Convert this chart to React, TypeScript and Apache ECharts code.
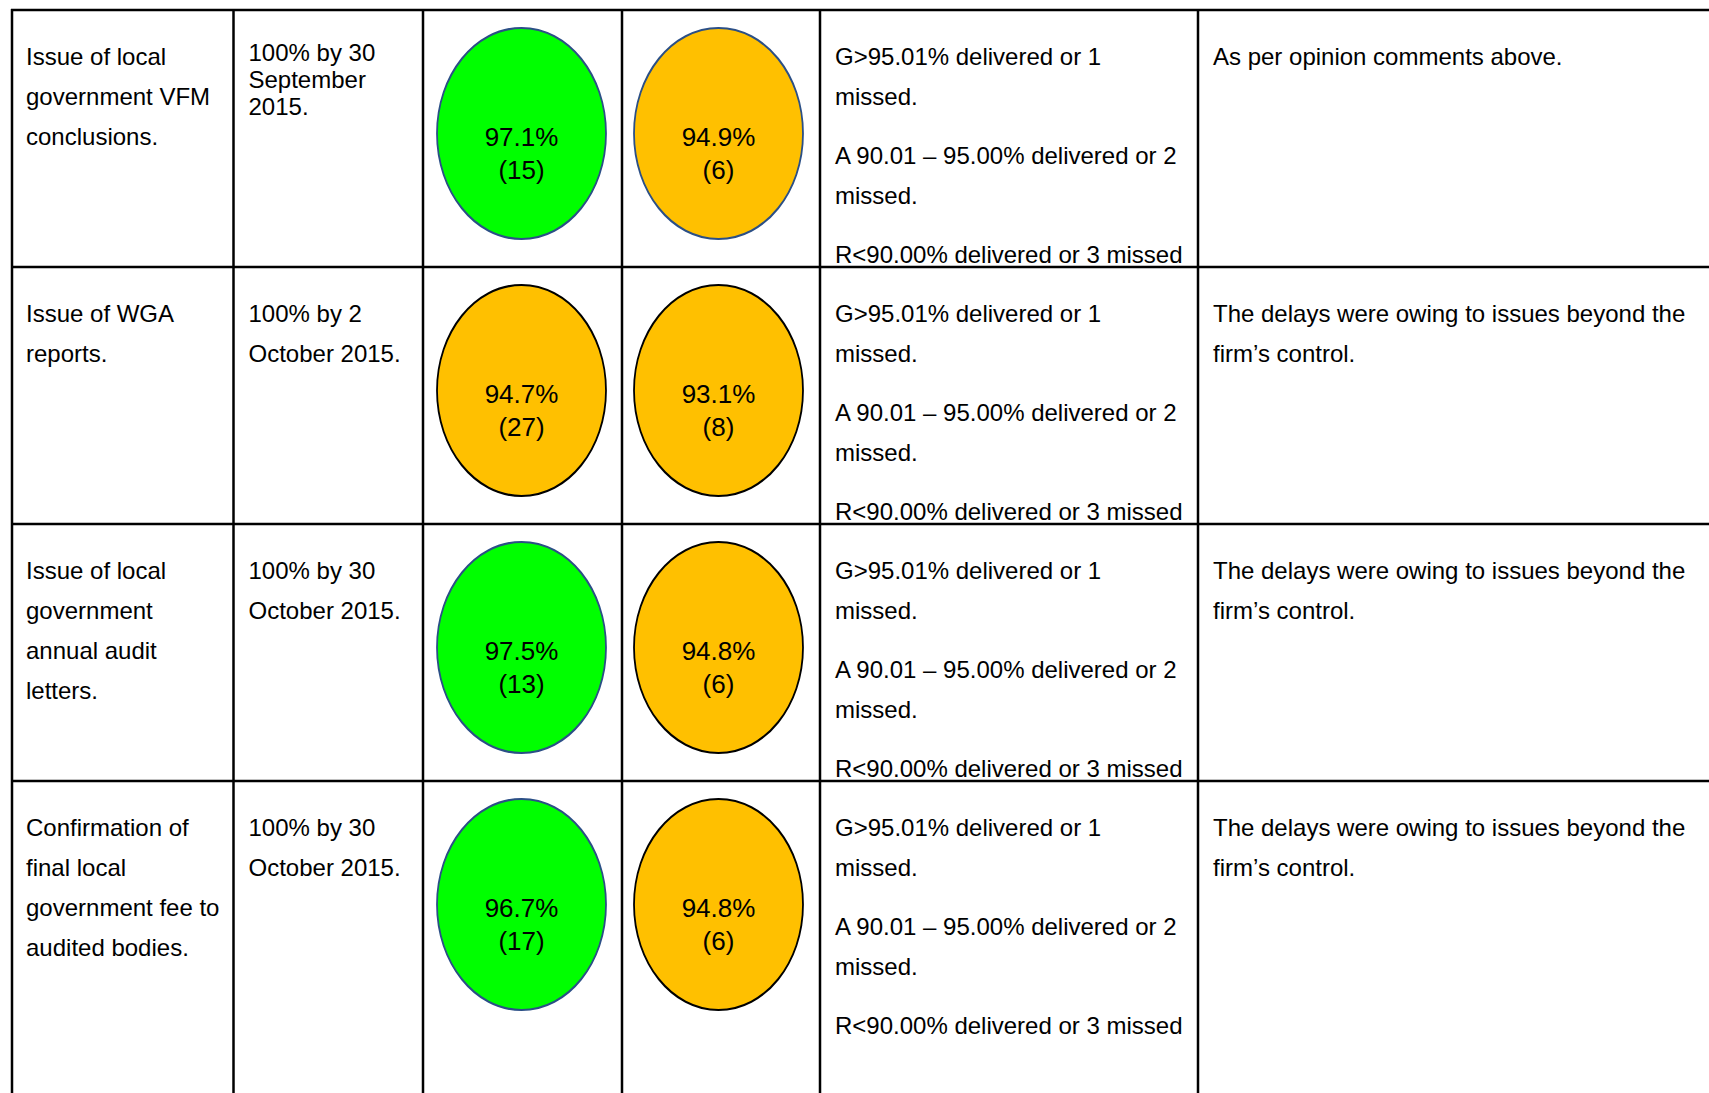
import React, { useEffect, useRef } from "react";
import * as echarts from "echarts";

// ---------- data ----------
const indicatorLines: string[][] = [
  ["Issue of local", "government VFM", "conclusions."],
  ["Issue of WGA", "reports."],
  ["Issue of local", "government", "annual audit", "letters."],
  ["Confirmation of", "final local", "government fee to", "audited bodies."],
];
const targetLines: string[][] = [
  ["100% by 30", "September", "2015."],
  ["100% by 2", "October 2015."],
  ["100% by 30", "October 2015."],
  ["100% by 30", "October 2015."],
];
const resultColumns = ["Result A", "Result B"];
const firstPct = [97.1, 94.7, 97.5, 96.7];
const firstCount = [15, 27, 13, 17];
const secondPct = [94.9, 93.1, 94.8, 94.8];
const secondCount = [6, 8, 6, 6];
const ragLines = [
  "G>95.01% delivered or 1",
  "missed.",
  "A 90.01 \u2013 95.00% delivered or 2",
  "missed.",
  "R<90.00% delivered or 3 missed",
];
const commentLines: string[][] = [
  ["As per opinion comments above."],
  ["The delays were owing to issues beyond the", "firm\u2019s control."],
  ["The delays were owing to issues beyond the", "firm\u2019s control."],
  ["The delays were owing to issues beyond the", "firm\u2019s control."],
];
const rowKeys = ["VFM", "WGA", "Letters", "Fees"];

// ---------- layout / style ----------
const W = 1709;
const H = 1093;
const COL_X = [12, 233.5, 423, 622, 820, 1198];
const ROW_Y = [10, 267, 524, 781];
const FONT = '"Liberation Sans", Arial, Helvetica, sans-serif';
const FS = 24;
const LINE = 40.3;
const FIRST = 46;
const TARGET_FIRST = [42.5, FIRST, FIRST, FIRST];
const TARGET_GAP = [27, LINE, LINE, LINE];
const RAG_OFFSETS = [0, 40.5, 99, 139.5, 198];
const GREEN = "#00FF00";
const AMBER = "#FFC000";
const RED = "#FF0000";
const BLUE_EDGE = "#2B4F86";
const ELLIPSE =
  "path://M0,-1C0.5523,-1,1,-0.5523,1,0C1,0.5523,0.5523,1,0,1C-0.5523,1,-1,0.5523,-1,0C-1,-0.5523,-0.5523,-1,0,-1Z";

function ragColor(p: number) {
  if (p > 95.01) return GREEN;
  if (p >= 90.01) return AMBER;
  return RED;
}
function edgeColor(p: number, row: number) {
  if (ragColor(p) === GREEN || row === 0) return BLUE_EDGE;
  return "#000000";
}

function textEl(x: number, y: number, text: string) {
  return {
    type: "text",
    x,
    y,
    silent: true,
    style: {
      text,
      fill: "#000000",
      fontSize: FS,
      fontFamily: FONT,
      align: "left",
      verticalAlign: "middle",
    },
  };
}

function buildGraphics() {
  const els: any[] = [];
  ROW_Y.forEach((y) => {
    els.push({
      type: "line",
      silent: true,
      shape: { x1: COL_X[0] - 1, y1: y, x2: W, y2: y },
      style: { stroke: "#000", lineWidth: 2.5 },
    });
  });
  COL_X.forEach((x) => {
    els.push({
      type: "line",
      silent: true,
      shape: { x1: x, y1: ROW_Y[0] - 1, x2: x, y2: H },
      style: { stroke: "#000", lineWidth: 2.5 },
    });
  });
  ROW_Y.forEach((top, r) => {
    indicatorLines[r].forEach((t, i) => els.push(textEl(26, top + FIRST + i * LINE, t)));
    targetLines[r].forEach((t, i) =>
      els.push(textEl(248.5, top + TARGET_FIRST[r] + i * TARGET_GAP[r], t))
    );
    ragLines.forEach((t, i) => els.push(textEl(835, top + FIRST + RAG_OFFSETS[i], t)));
    commentLines[r].forEach((t, i) => els.push(textEl(1213, top + FIRST + i * LINE, t)));
  });
  return els;
}

function buildData() {
  const out: any[] = [];
  rowKeys.forEach((_, r) => {
    const cols = [
      [firstPct[r], firstCount[r]],
      [secondPct[r], secondCount[r]],
    ];
    cols.forEach(([p, c], j) => {
      out.push({
        value: [j, r],
        pct: p,
        count: c,
        itemStyle: { color: ragColor(p), borderColor: edgeColor(p, r) },
      });
    });
  });
  return out;
}

export default function App() {
  const ref = useRef<HTMLDivElement>(null);
  useEffect(() => {
    if (!ref.current) return;
    const chart = echarts.init(ref.current, undefined, { renderer: "svg" });
    chart.setOption({
      animation: false,
      backgroundColor: "#ffffff",
      grid: { left: COL_X[2], top: 5, width: 394, height: 1028, containLabel: false },
      xAxis: { type: "category", data: resultColumns, show: false },
      yAxis: { type: "category", data: rowKeys, inverse: true, show: false },
      graphic: buildGraphics(),
      series: [
        {
          type: "scatter",
          symbol: ELLIPSE,
          symbolSize: [169, 211],
          data: buildData(),
          itemStyle: { borderWidth: 2, opacity: 1 },
          label: {
            show: true,
            position: "inside",
            offset: [0, 20],
            color: "#000",
            fontSize: 26,
            fontFamily: FONT,
            lineHeight: 33,
            align: "center",
            formatter: (p: any) => `${p.data.pct.toFixed(1)}%\n(${p.data.count})`,
          },
          emphasis: { disabled: true },
        },
      ],
    });
    return () => chart.dispose();
  }, []);
  return (
    <div
      ref={ref}
      style={{ position: "absolute", left: 0, top: 0, width: W, height: H }}
    />
  );
}
